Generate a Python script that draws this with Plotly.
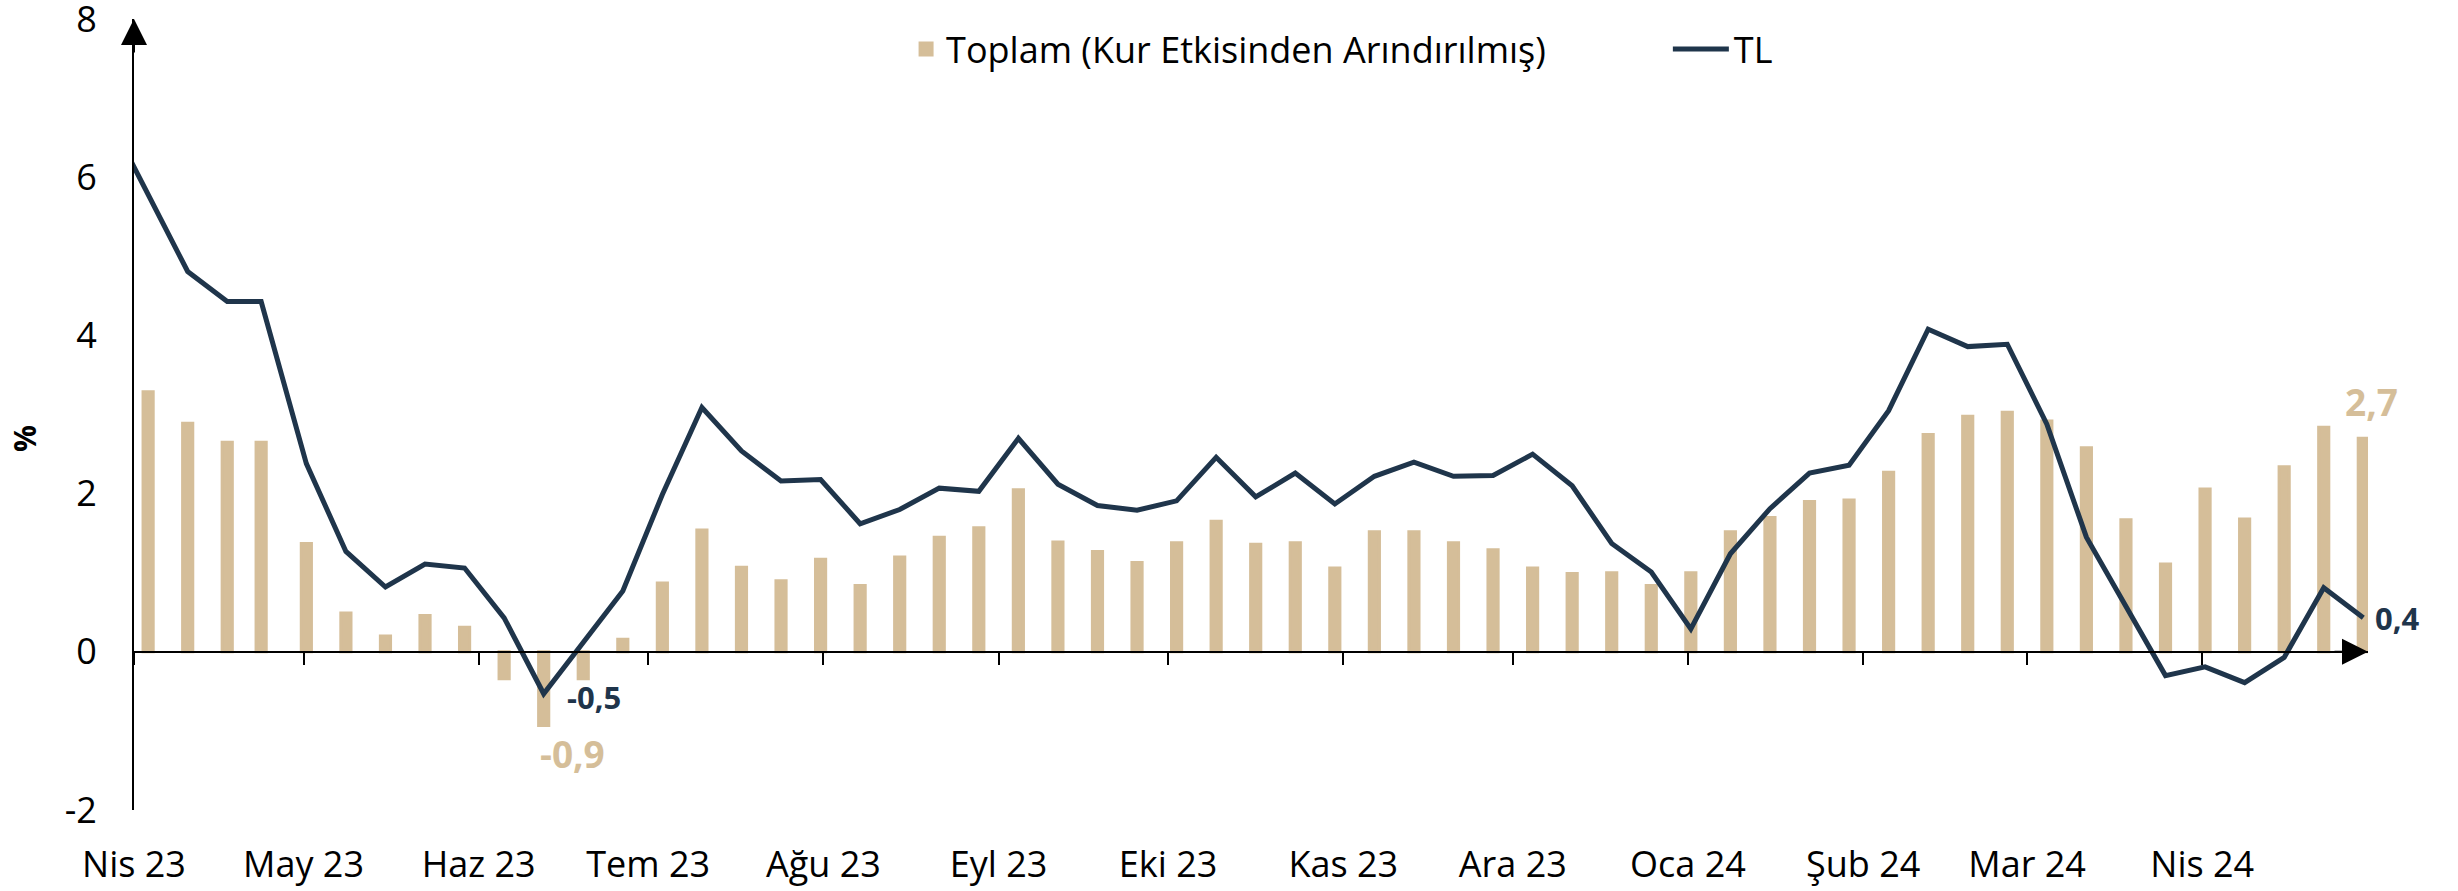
import plotly.graph_objects as go

bar_dates = [
    "2023-04-03", "2023-04-10", "2023-04-17", "2023-04-23", "2023-05-01", "2023-05-08",
    "2023-05-15", "2023-05-22", "2023-05-29", "2023-06-05", "2023-06-12", "2023-06-19",
    "2023-06-26", "2023-07-03", "2023-07-10", "2023-07-17", "2023-07-24", "2023-07-31",
    "2023-08-07", "2023-08-14", "2023-08-21", "2023-08-28", "2023-09-04", "2023-09-11",
    "2023-09-18", "2023-09-25", "2023-10-02", "2023-10-09", "2023-10-16", "2023-10-23",
    "2023-10-30", "2023-11-06", "2023-11-13", "2023-11-20", "2023-11-27", "2023-12-04",
    "2023-12-11", "2023-12-18", "2023-12-25", "2024-01-01", "2024-01-08", "2024-01-15",
    "2024-01-22", "2024-01-29", "2024-02-05", "2024-02-12", "2024-02-19", "2024-02-26",
    "2024-03-04", "2024-03-11", "2024-03-18", "2024-03-25", "2024-04-01", "2024-04-08",
    "2024-04-15", "2024-04-22", "2024-04-29",
]
toplam = [
    3.29, 2.89, 2.65, 2.65, 1.37, 0.49, 0.20, 0.46, 0.31, -0.34, -0.93, -0.34,
    0.16, 0.87, 1.54, 1.07, 0.90, 1.17, 0.84, 1.20, 1.45, 1.57, 2.05, 1.39,
    1.27, 1.13, 1.38, 1.65, 1.36, 1.38, 1.06, 1.52, 1.52, 1.38, 1.29, 1.06,
    0.99, 1.00, 0.84, 1.00, 1.52, 1.70, 1.90, 1.92, 2.27, 2.75, 2.98, 3.03,
    2.92, 2.58, 1.67, 1.11, 2.06, 1.68, 2.34, 2.84, 2.70,
]
line_dates = ["2023-03-31"] + bar_dates[1:]
tl = [
    6.20, 4.81, 4.43, 4.43, 2.38, 1.27, 0.82, 1.11, 1.06, 0.43, -0.53, 0.13,
    0.77, 1.99, 3.09, 2.54, 2.16, 2.18, 1.62, 1.80, 2.07, 2.03, 2.70, 2.12,
    1.85, 1.79, 1.91, 2.46, 1.96, 2.26, 1.87, 2.22, 2.40, 2.22, 2.23, 2.50,
    2.10, 1.37, 1.01, 0.29, 1.24, 1.81, 2.26, 2.36, 3.05, 4.08, 3.86, 3.89,
    2.88, 1.45, 0.59, -0.30, -0.19, -0.39, -0.07, 0.81, 0.43,
]
month_ticks = [
    "2023-04-01", "2023-05-01", "2023-06-01", "2023-07-01", "2023-08-01", "2023-09-01",
    "2023-10-01", "2023-11-01", "2023-12-01", "2024-01-01", "2024-02-01", "2024-03-01",
    "2024-04-01",
]
month_labels = ["Nis 23", "May 23", "Haz 23", "Tem 23", "Ağu 23", "Eyl 23", "Eki 23",
                "Kas 23", "Ara 23", "Oca 24", "Şub 24", "Mar 24", "Nis 24"]
y_ticks = [-2, 0, 2, 4, 6, 8]
y_labels = ["-2", "0", "2", "4", "6", "8"]

TAN = "#D5BE99"
NAVY = "#1F354B"
FONT = "Open Sans"
DAY = 86400000
X_RANGE = ["2023-04-01", "2024-04-30 08:00"]

fig = go.Figure()
fig.add_trace(go.Bar(
    x=bar_dates, y=toplam, name="Toplam (Kur Etkisinden Arındırılmış)",
    marker=dict(color=TAN, line=dict(color=TAN, width=3)),
    width=1.8 * DAY, xperiod=DAY, xperiodalignment="middle",
    legend="legend", showlegend=True,
))
fig.add_trace(go.Scatter(
    x=line_dates, y=tl, name="TL", mode="lines",
    line=dict(color=NAVY, width=5),
    xaxis="x2", xperiod=DAY, xperiodalignment="middle",
    legend="legend2", showlegend=True,
))

annotations = [
    # axis arrows
    dict(xref="paper", yref="paper", x=0, y=1, ax=0, ay=35, showarrow=True,
         arrowhead=2, arrowsize=2.6, arrowwidth=2, arrowcolor="black", text=""),
    dict(xref="paper", yref="paper", x=1, y=0.2, ax=-35, ay=0, showarrow=True,
         arrowhead=2, arrowsize=2.6, arrowwidth=2, arrowcolor="black", text=""),
    # value labels
    dict(x=bar_dates[10], y=toplam[10], xref="x", yref="y", text="-0,9", showarrow=False,
         xanchor="left", yanchor="top", xshift=-3, yshift=-1,
         font=dict(family=FONT, size=37, color=TAN, weight="bold")),
    dict(x=bar_dates[-1], y=toplam[-1], xref="x", yref="y", text="2,7", showarrow=False,
         xanchor="center", yanchor="middle", xshift=11, yshift=37,
         font=dict(family=FONT, size=37, color=TAN, weight="bold")),
    dict(x=line_dates[10], y=tl[10], xref="x", yref="y", text="-0,5", showarrow=False,
         xanchor="left", yanchor="middle", xshift=24, yshift=-3,
         font=dict(family=FONT, size=31, color=NAVY, weight="bold")),
    dict(x=line_dates[-1], y=tl[-1], xref="x", yref="y", text="0,4", showarrow=False,
         xanchor="left", yanchor="middle", xshift=13,
         font=dict(family=FONT, size=31, color=NAVY, weight="bold")),
    # y axis unit
    dict(xref="paper", yref="paper", x=-0.0492, y=0.469, text="%", textangle=-90,
         showarrow=False, xanchor="center", yanchor="middle",
         font=dict(family=FONT, size=30, color="black", weight="bold")),
]

fig.update_layout(
    width=2458, height=891,
    margin=dict(l=134, r=90, t=19, b=81),
    plot_bgcolor="white", paper_bgcolor="white",
    font=dict(family=FONT, size=36, color="black"),
    showlegend=True,
    xaxis=dict(type="date", range=X_RANGE, tickvals=month_ticks, ticktext=month_labels,
               showline=False, ticks="", showgrid=False, zeroline=False, automargin=False,
               tickfont=dict(size=36, color="black"), ticklabelstandoff=30),
    xaxis2=dict(type="date", range=X_RANGE, overlaying="x", anchor="free", position=0.2,
                showline=True, linecolor="black", linewidth=2, automargin=False,
                ticks="outside", ticklen=12, tickwidth=2, tickcolor="black",
                tickvals=month_ticks, showticklabels=False, showgrid=False, zeroline=False),
    yaxis=dict(range=[-2, 8.003], tickvals=y_ticks, ticktext=y_labels, showline=True,
               linecolor="black", linewidth=2, ticks="", showgrid=False, zeroline=False,
               automargin=False, ticklabeloverflow="allow",
               tickfont=dict(size=36, color="black"), ticklabelstandoff=28),
    legend=dict(orientation="h", x=0.3456, xanchor="left", y=1.0, yanchor="top",
                font=dict(size=36, color="black"), bgcolor="rgba(0,0,0,0)"),
    legend2=dict(orientation="h", x=0.6866, xanchor="left", y=1.0, yanchor="top",
                 font=dict(size=36, color="black"), bgcolor="rgba(0,0,0,0)", itemwidth=56),
    annotations=annotations,
)

# remove the browser's default 8 px body margin so the figure fills the window exactly
fig.write_html("out.html", config={"displayModeBar": False},
               post_script="document.body.style.margin='0';")
